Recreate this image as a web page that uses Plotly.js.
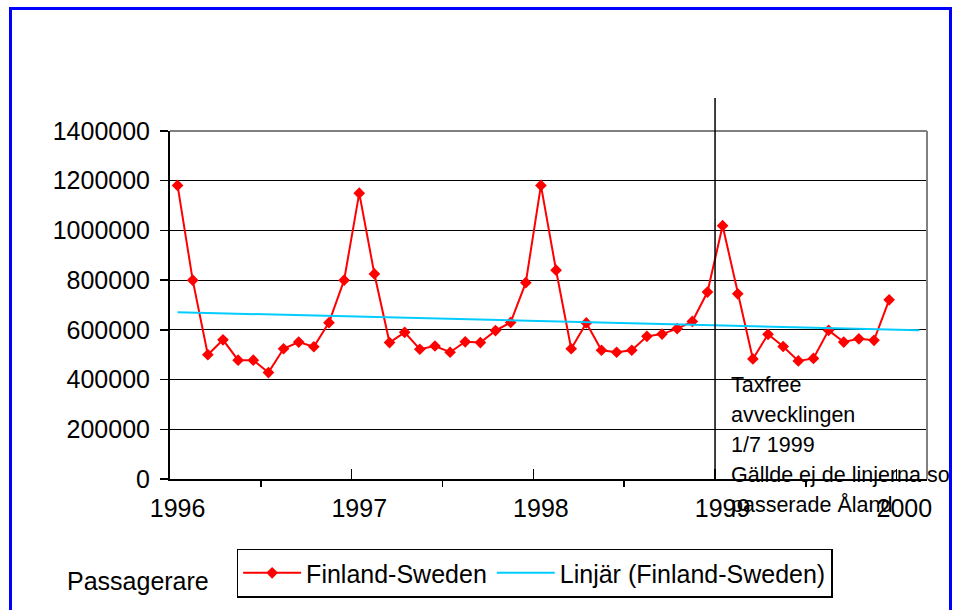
<!DOCTYPE html>
<html>
<head>
<meta charset="utf-8">
<script src="https://cdn.plot.ly/plotly-3.0.1.min.js"></script>
<style>
  html, body { margin: 0; padding: 0; background: #ffffff; width: 961px; height: 610px; overflow: hidden; }
  #chart { position: absolute; left: 0; top: 0; width: 949px; height: 610px; overflow: hidden; }
  #frame { position: absolute; left: 9px; top: 7px; width: 943px; height: 700px; box-sizing: border-box;
           border: 3px solid #0000ff; pointer-events: none; z-index: 10; }
</style>
</head>
<body>
<div id="chart"></div>
<div id="frame"></div>
<script>
// ---- data ----
const years = ['1996', '1997', '1998', '1999', '2000'];
const seriesName = 'Finland-Sweden';
const trendName = 'Linjär (Finland-Sweden)';
// monthly passengers, Jan 1996 .. Dec 1999
const passengers = [
  1181000, 800000, 500000, 560000, 478000, 478000, 428000, 524000, 551000, 532000, 629000, 800000,
  1150000, 825000, 549000, 590000, 522000, 535000, 510000, 552000, 549000, 597000, 630000, 790000,
  1181000, 840000, 524000, 628000, 518000, 510000, 518000, 574000, 583000, 605000, 634000, 752000,
  1019000, 745000, 483000, 582000, 533000, 475000, 485000, 598000, 551000, 564000, 558000, 721000
];
// linear trend end values (start at first month, end one month past the data)
const trendValues = [671000, 598000];
const yTicks = [0, 200000, 400000, 600000, 800000, 1000000, 1200000, 1400000];
const noteLines = ['Taxfree', 'avvecklingen', '1/7 1999', 'Gällde ej de linjerna som', 'passerade Åland'];
const yTitle = 'Passagerare';

// ---- derived positions (category index along the time axis) ----
const monthIdx = passengers.map((v, i) => i);
const trendX = [0, passengers.length + 1];
const yearPos = years.map((y, k) => k * 12);
const majorTicks = years.slice(0, 4).map((y, k) => k * 12 + 11.5);
const minorTicks = years.slice(0, 4).map((y, k) => k * 12 + 5.5);
const changeX = 35.5;

const FONT = 'Liberation Sans, Arial, sans-serif';

const traces = [
  {
    x: monthIdx, y: passengers, name: seriesName, type: 'scatter', mode: 'lines+markers',
    line: { color: '#ff0000', width: 2 },
    marker: { symbol: 'diamond', size: 9, color: '#ff0000' },
    xaxis: 'x', yaxis: 'y'
  },
  {
    x: trendX, y: trendValues, name: trendName, type: 'scatter', mode: 'lines',
    line: { color: '#00ccff', width: 2 },
    xaxis: 'x2', yaxis: 'y'
  }
];

const annotations = noteLines.map((t, i) => ({
  text: t, xref: 'paper', yref: 'paper', x: 0.739, y: (479 - (385 + i * 30)) / 348,
  xanchor: 'left', yanchor: 'middle', showarrow: false,
  font: { family: FONT, size: 21.5, color: '#000000' }
}));
annotations.push({
  text: yTitle, xref: 'paper', yref: 'paper', x: -0.139, y: -0.293,
  xanchor: 'left', yanchor: 'middle', showarrow: false,
  font: { family: FONT, size: 25, color: '#000000' }
});

const layout = {
  width: 949, height: 610,
  margin: { l: 170, r: 22, t: 131, b: 131 },
  paper_bgcolor: '#ffffff', plot_bgcolor: '#ffffff',
  font: { family: FONT, size: 25, color: '#000000' },
  showlegend: true,
  legend: {
    orientation: 'h', x: 0.088, y: -0.2, xanchor: 'left', yanchor: 'top',
    bordercolor: '#000000', borderwidth: 1.5, bgcolor: '#ffffff',
    font: { family: FONT, size: 25, color: '#000000' },
    itemwidth: 58, tracegroupgap: 0
  },
  xaxis: {
    range: [-0.5, 49.5], tickmode: 'array', tickvals: yearPos, ticktext: years,
    ticks: '', showgrid: false, zeroline: false,
    showline: true, linecolor: '#000000', linewidth: 2,
    tickfont: { family: FONT, size: 25, color: '#000000' },
    ticklabelstandoff: 6
  },
  xaxis2: {
    overlaying: 'x', anchor: 'y', side: 'bottom', range: [-0.5, 49.5],
    tickmode: 'array', tickvals: majorTicks, ticks: 'inside', ticklen: 10, tickwidth: 1.5, tickcolor: '#000000',
    showticklabels: false, showgrid: false, zeroline: false, showline: false,
    minor: { tickmode: 'array', tickvals: minorTicks, ticks: 'outside', ticklen: 7, tickwidth: 1.5, tickcolor: '#000000', showgrid: false }
  },
  yaxis: {
    range: [0, 1400000], tickmode: 'array', tickvals: yTicks, ticktext: yTicks.map(String),
    ticks: 'outside', ticklen: 8, tickwidth: 1.5, tickcolor: '#000000',
    showgrid: true, gridcolor: '#000000', gridwidth: 1.2, zeroline: false,
    showline: true, linecolor: '#000000', linewidth: 2,
    tickfont: { family: FONT, size: 25, color: '#000000' },
    ticklabelstandoff: 5
  },
  shapes: [
    { type: 'line', xref: 'paper', yref: 'paper', x0: 0, x1: 1, y0: 1, y1: 1, line: { color: '#808080', width: 2 }, layer: 'above' },
    { type: 'line', xref: 'paper', yref: 'paper', x0: 1, x1: 1, y0: 0, y1: 1, line: { color: '#808080', width: 2 }, layer: 'above' },
    { type: 'line', xref: 'x', yref: 'paper', x0: changeX, x1: changeX, y0: 0, y1: 1.095, line: { color: '#000000', width: 1.5 }, layer: 'above' }
  ],
  annotations: annotations
};

Plotly.newPlot('chart', traces, layout, { staticPlot: true, displayModeBar: false });
</script>
</body>
</html>
